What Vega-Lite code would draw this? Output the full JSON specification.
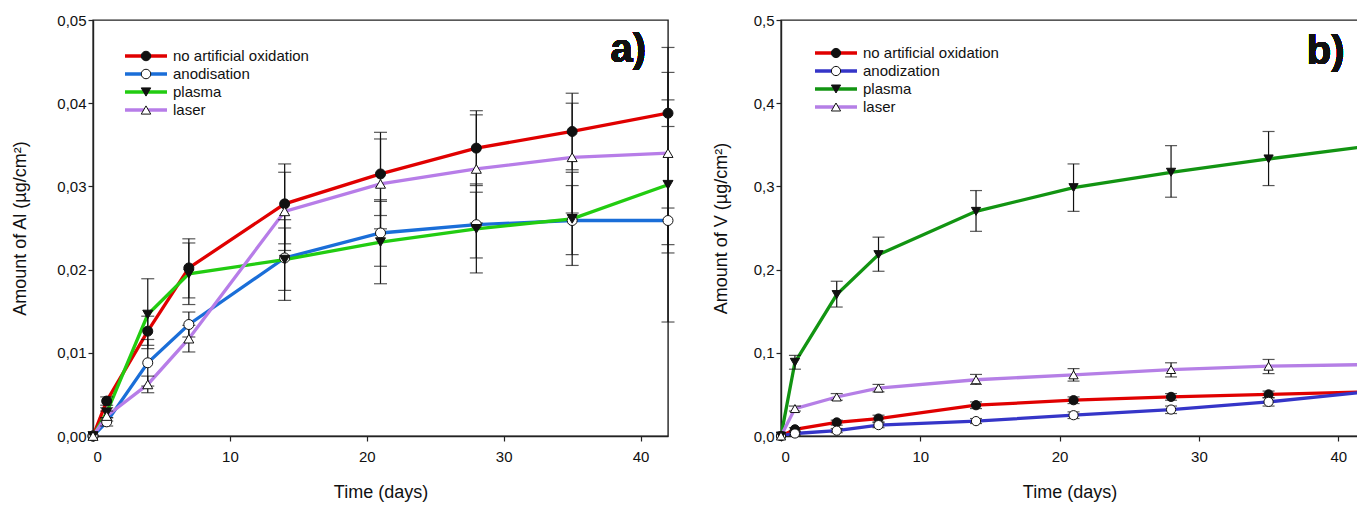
{
  "$schema": "https://vega.github.io/schema/vega-lite/v6.json",
  "padding": {"left": 11, "top": 12, "right": 0, "bottom": 2},
  "background": "white",
  "config": {
    "font": "Liberation Sans",
    "locale": {"number": {"decimal": ",", "thousands": ".", "grouping": [3], "currency": ["", " €"]}},
    "view": {"stroke": "#222222", "strokeWidth": 1.4},
    "axis": {"domainColor": "#222222", "domainWidth": 1.4, "tickColor": "#222222", "tickWidth": 1.2, "tickSize": 5, "labelFont": "Liberation Sans", "labelFontSize": 15, "labelColor": "#111111", "titleFont": "Liberation Sans", "titleFontSize": 18, "titleFontWeight": "normal", "titleColor": "#111111", "grid": false},
    "axisX": {"labelPadding": 8, "titlePadding": 19},
    "axisY": {"labelPadding": 2},
    "legend": {"labelFont": "Liberation Sans", "labelFontSize": 15, "labelColor": "#111111", "padding": 0, "rowPadding": 2, "clipHeight": 16}
  },
  "datasets": {
    "al": [
      {"s": "no artificial oxidation", "day": 0, "v": 0},
      {"s": "no artificial oxidation", "day": 1, "v": 0.0042, "lo": 0.0037, "hi": 0.0047},
      {"s": "no artificial oxidation", "day": 4, "v": 0.0126, "lo": 0.0109, "hi": 0.0144},
      {"s": "no artificial oxidation", "day": 7, "v": 0.0202, "lo": 0.0166, "hi": 0.0237},
      {"s": "no artificial oxidation", "day": 14, "v": 0.0279, "lo": 0.0231, "hi": 0.0327},
      {"s": "no artificial oxidation", "day": 21, "v": 0.0315, "lo": 0.0265, "hi": 0.0365},
      {"s": "no artificial oxidation", "day": 28, "v": 0.0346, "lo": 0.0301, "hi": 0.0391},
      {"s": "no artificial oxidation", "day": 35, "v": 0.0366, "lo": 0.032, "hi": 0.0412},
      {"s": "no artificial oxidation", "day": 42, "v": 0.0388, "lo": 0.0372, "hi": 0.0404},
      {"s": "anodisation", "day": 0, "v": 0},
      {"s": "anodisation", "day": 1, "v": 0.0017, "lo": 0.0012, "hi": 0.0022},
      {"s": "anodisation", "day": 4, "v": 0.0088, "lo": 0.006, "hi": 0.0116},
      {"s": "anodisation", "day": 7, "v": 0.0134, "lo": 0.0119, "hi": 0.0149},
      {"s": "anodisation", "day": 14, "v": 0.0214, "lo": 0.0175, "hi": 0.025},
      {"s": "anodisation", "day": 21, "v": 0.0244, "lo": 0.0204, "hi": 0.0284},
      {"s": "anodisation", "day": 28, "v": 0.0254, "lo": 0.0214, "hi": 0.0293},
      {"s": "anodisation", "day": 35, "v": 0.0259, "lo": 0.0218, "hi": 0.0301},
      {"s": "anodisation", "day": 42, "v": 0.0259, "lo": 0.022, "hi": 0.0274},
      {"s": "plasma", "day": 0, "v": 0},
      {"s": "plasma", "day": 1, "v": 0.0028, "lo": 0.0022, "hi": 0.0034},
      {"s": "plasma", "day": 4, "v": 0.0146, "lo": 0.0105, "hi": 0.0189},
      {"s": "plasma", "day": 7, "v": 0.0195, "lo": 0.0158, "hi": 0.0232},
      {"s": "plasma", "day": 14, "v": 0.0212, "lo": 0.0163, "hi": 0.026},
      {"s": "plasma", "day": 21, "v": 0.0233, "lo": 0.0183, "hi": 0.0282},
      {"s": "plasma", "day": 28, "v": 0.0249, "lo": 0.0196, "hi": 0.0303},
      {"s": "plasma", "day": 35, "v": 0.0261, "lo": 0.0205, "hi": 0.0317},
      {"s": "plasma", "day": 42, "v": 0.0302, "lo": 0.0137, "hi": 0.0467},
      {"s": "laser", "day": 0, "v": 0},
      {"s": "laser", "day": 1, "v": 0.0024, "lo": 0.0018, "hi": 0.003},
      {"s": "laser", "day": 4, "v": 0.0062, "lo": 0.0052, "hi": 0.0072},
      {"s": "laser", "day": 7, "v": 0.0117, "lo": 0.0101, "hi": 0.0133},
      {"s": "laser", "day": 14, "v": 0.027, "lo": 0.0223, "hi": 0.0317},
      {"s": "laser", "day": 21, "v": 0.0303, "lo": 0.0249, "hi": 0.0357},
      {"s": "laser", "day": 28, "v": 0.0321, "lo": 0.0256, "hi": 0.0386},
      {"s": "laser", "day": 35, "v": 0.0335, "lo": 0.0268, "hi": 0.04},
      {"s": "laser", "day": 42, "v": 0.034, "lo": 0.023, "hi": 0.0437}
    ],
    "vv": [
      {"s": "no artificial oxidation", "day": 0, "v": 0},
      {"s": "no artificial oxidation", "day": 1, "v": 0.008, "lo": 0.006, "hi": 0.01},
      {"s": "no artificial oxidation", "day": 4, "v": 0.0163, "lo": 0.013, "hi": 0.019},
      {"s": "no artificial oxidation", "day": 7, "v": 0.021, "lo": 0.017, "hi": 0.025},
      {"s": "no artificial oxidation", "day": 14, "v": 0.037, "lo": 0.033, "hi": 0.041},
      {"s": "no artificial oxidation", "day": 21, "v": 0.043, "lo": 0.039, "hi": 0.047},
      {"s": "no artificial oxidation", "day": 28, "v": 0.047, "lo": 0.043, "hi": 0.051},
      {"s": "no artificial oxidation", "day": 35, "v": 0.05, "lo": 0.046, "hi": 0.054},
      {"s": "no artificial oxidation", "day": 42, "v": 0.053, "lo": 0.049, "hi": 0.057},
      {"s": "anodization", "day": 0, "v": 0},
      {"s": "anodization", "day": 1, "v": 0.003, "lo": 0.001, "hi": 0.005},
      {"s": "anodization", "day": 4, "v": 0.0064, "lo": 0.004, "hi": 0.009},
      {"s": "anodization", "day": 7, "v": 0.0131, "lo": 0.01, "hi": 0.016},
      {"s": "anodization", "day": 14, "v": 0.0179, "lo": 0.015, "hi": 0.021},
      {"s": "anodization", "day": 21, "v": 0.025, "lo": 0.021, "hi": 0.029},
      {"s": "anodization", "day": 28, "v": 0.0318, "lo": 0.027, "hi": 0.036},
      {"s": "anodization", "day": 35, "v": 0.041, "lo": 0.036, "hi": 0.046},
      {"s": "anodization", "day": 42, "v": 0.053, "lo": 0.049, "hi": 0.057},
      {"s": "plasma", "day": 0, "v": 0},
      {"s": "plasma", "day": 1, "v": 0.0886, "lo": 0.0803, "hi": 0.0969},
      {"s": "plasma", "day": 4, "v": 0.17, "lo": 0.155, "hi": 0.186},
      {"s": "plasma", "day": 7, "v": 0.218, "lo": 0.198, "hi": 0.239},
      {"s": "plasma", "day": 14, "v": 0.27, "lo": 0.246, "hi": 0.295},
      {"s": "plasma", "day": 21, "v": 0.2985, "lo": 0.27, "hi": 0.327},
      {"s": "plasma", "day": 28, "v": 0.317, "lo": 0.287, "hi": 0.349},
      {"s": "plasma", "day": 35, "v": 0.333, "lo": 0.301, "hi": 0.366},
      {"s": "plasma", "day": 42, "v": 0.348, "lo": 0.314, "hi": 0.384},
      {"s": "laser", "day": 0, "v": 0},
      {"s": "laser", "day": 1, "v": 0.033, "lo": 0.03, "hi": 0.036},
      {"s": "laser", "day": 4, "v": 0.0469, "lo": 0.043, "hi": 0.051},
      {"s": "laser", "day": 7, "v": 0.0576, "lo": 0.053, "hi": 0.062},
      {"s": "laser", "day": 14, "v": 0.0676, "lo": 0.062, "hi": 0.074},
      {"s": "laser", "day": 21, "v": 0.0735, "lo": 0.066, "hi": 0.081},
      {"s": "laser", "day": 28, "v": 0.0799, "lo": 0.071, "hi": 0.088},
      {"s": "laser", "day": 35, "v": 0.0839, "lo": 0.075, "hi": 0.092},
      {"s": "laser", "day": 42, "v": 0.0858, "lo": 0.077, "hi": 0.095}
    ]
  },
  "spacing": 35,
  "resolve": {"scale": {"color": "independent", "shape": "independent", "fill": "independent"}},
  "hconcat": [
    {
      "width": 575,
      "height": 416,
      "data": {"name": "al"},
      "encoding": {
        "x": {"field": "day", "type": "quantitative", "title": "Time (days)", "scale": {"domain": [0, 42], "nice": false}, "axis": {"values": [0, 10, 20, 30, 40]}}
      },
      "layer": [
        {
          "mark": {"type": "line", "strokeWidth": 3.3, "clip": true},
          "encoding": {
            "y": {"field": "v", "type": "quantitative", "title": "Amount of Al (µg/cm²)", "scale": {"domain": [0, 0.05], "nice": false}, "axis": {"values": [0, 0.01, 0.02, 0.03, 0.04, 0.05], "format": ".2f", "titlePadding": 27}},
            "color": {"field": "s", "type": "nominal", "sort": ["no artificial oxidation", "anodisation", "plasma", "laser"], "scale": {"range": ["#e00000", "#1a6ed8", "#22cc11", "#b77de8"]}, "legend": {"orient": "none", "legendX": 30, "legendY": 28, "title": null, "symbolType": "stroke", "symbolSize": 1764, "symbolStrokeWidth": 3.5, "labelOffset": 4}}
          }
        },
        {
          "mark": {"type": "rule", "color": "#111111", "strokeWidth": 1.2},
          "encoding": {"y": {"field": "lo", "type": "quantitative", "title": "Amount of Al (µg/cm²)"}, "y2": {"field": "hi"}}
        },
        {
          "mark": {"type": "tick", "orient": "horizontal", "color": "#111111", "size": 13, "thickness": 1.2},
          "encoding": {"y": {"field": "lo", "type": "quantitative", "title": "Amount of Al (µg/cm²)"}}
        },
        {
          "mark": {"type": "tick", "orient": "horizontal", "color": "#111111", "size": 13, "thickness": 1.2},
          "encoding": {"y": {"field": "hi", "type": "quantitative", "title": "Amount of Al (µg/cm²)"}}
        },
        {
          "mark": {"type": "point", "filled": true, "stroke": "#111111", "strokeWidth": 1, "size": 100, "opacity": 1},
          "encoding": {
            "y": {"field": "v", "type": "quantitative", "title": "Amount of Al (µg/cm²)"},
            "shape": {"field": "s", "type": "nominal", "scale": {"domain": ["no artificial oxidation", "anodisation", "plasma", "laser"], "range": ["circle", "circle", "triangle-down", "triangle-up"]}, "legend": {"orient": "none", "legendX": 30, "legendY": 28, "title": null, "symbolSize": 90, "symbolOffset": 15.5, "symbolStrokeWidth": 1, "labelExpr": "''"}},
            "fill": {"field": "s", "type": "nominal", "scale": {"domain": ["no artificial oxidation", "anodisation", "plasma", "laser"], "range": ["#111111", "white", "#111111", "white"]}, "legend": {"orient": "none", "legendX": 30, "legendY": 28, "title": null, "symbolSize": 90, "symbolOffset": 15.5, "symbolStrokeWidth": 1, "labelExpr": "''"}}
          }
        },
        {
          "mark": {"type": "text", "text": "a)", "fontSize": 40, "fontWeight": "bold", "font": "Liberation Sans", "align": "center", "baseline": "middle", "fill": "#111111", "strokeWidth": 0},
          "encoding": {"x": {"datum": 39.1}, "y": {"datum": 0.0464}}
        }
      ]
    },
    {
      "width": 577,
      "height": 416,
      "data": {"name": "vv"},
      "encoding": {
        "x": {"field": "day", "type": "quantitative", "title": "Time (days)", "scale": {"domain": [0, 41.42], "nice": false}, "axis": {"values": [0, 10, 20, 30, 40]}}
      },
      "layer": [
        {
          "mark": {"type": "line", "strokeWidth": 3.3, "clip": true},
          "encoding": {
            "y": {"field": "v", "type": "quantitative", "title": "Amount of V (µg/cm²)", "scale": {"domain": [0, 0.5], "nice": false}, "axis": {"values": [0, 0.1, 0.2, 0.3, 0.4, 0.5], "format": ".1f", "titlePadding": 23}},
            "color": {"field": "s", "type": "nominal", "sort": ["no artificial oxidation", "anodization", "plasma", "laser"], "scale": {"range": ["#e00000", "#3535c8", "#129412", "#b57fe6"]}, "legend": {"orient": "none", "legendX": 32, "legendY": 25, "title": null, "symbolType": "stroke", "symbolSize": 1764, "symbolStrokeWidth": 3.5, "labelOffset": 4}}
          }
        },
        {
          "mark": {"type": "rule", "color": "#111111", "strokeWidth": 1.2, "clip": true},
          "encoding": {"y": {"field": "lo", "type": "quantitative", "title": "Amount of V (µg/cm²)"}, "y2": {"field": "hi"}}
        },
        {
          "mark": {"type": "tick", "orient": "horizontal", "color": "#111111", "size": 12, "thickness": 1.2, "clip": true},
          "encoding": {"y": {"field": "lo", "type": "quantitative", "title": "Amount of V (µg/cm²)"}}
        },
        {
          "mark": {"type": "tick", "orient": "horizontal", "color": "#111111", "size": 12, "thickness": 1.2, "clip": true},
          "encoding": {"y": {"field": "hi", "type": "quantitative", "title": "Amount of V (µg/cm²)"}}
        },
        {
          "transform": [{"filter": "datum.day < 42"}],
          "mark": {"type": "point", "filled": true, "stroke": "#111111", "strokeWidth": 1, "size": 85, "opacity": 1},
          "encoding": {
            "y": {"field": "v", "type": "quantitative", "title": "Amount of V (µg/cm²)"},
            "shape": {"field": "s", "type": "nominal", "scale": {"domain": ["no artificial oxidation", "anodization", "plasma", "laser"], "range": ["circle", "circle", "triangle-down", "triangle-up"]}, "legend": {"orient": "none", "legendX": 32, "legendY": 25, "title": null, "symbolSize": 85, "symbolOffset": 15.5, "symbolStrokeWidth": 1, "labelExpr": "''"}},
            "fill": {"field": "s", "type": "nominal", "scale": {"domain": ["no artificial oxidation", "anodization", "plasma", "laser"], "range": ["#111111", "white", "#111111", "white"]}, "legend": {"orient": "none", "legendX": 32, "legendY": 25, "title": null, "symbolSize": 85, "symbolOffset": 15.5, "symbolStrokeWidth": 1, "labelExpr": "''"}}
          }
        },
        {
          "mark": {"type": "text", "text": "b)", "fontSize": 40, "fontWeight": "bold", "font": "Liberation Sans", "align": "center", "baseline": "middle", "fill": "#111111", "strokeWidth": 0},
          "encoding": {"x": {"datum": 39.1}, "y": {"datum": 0.4616}}
        }
      ]
    }
  ]
}
